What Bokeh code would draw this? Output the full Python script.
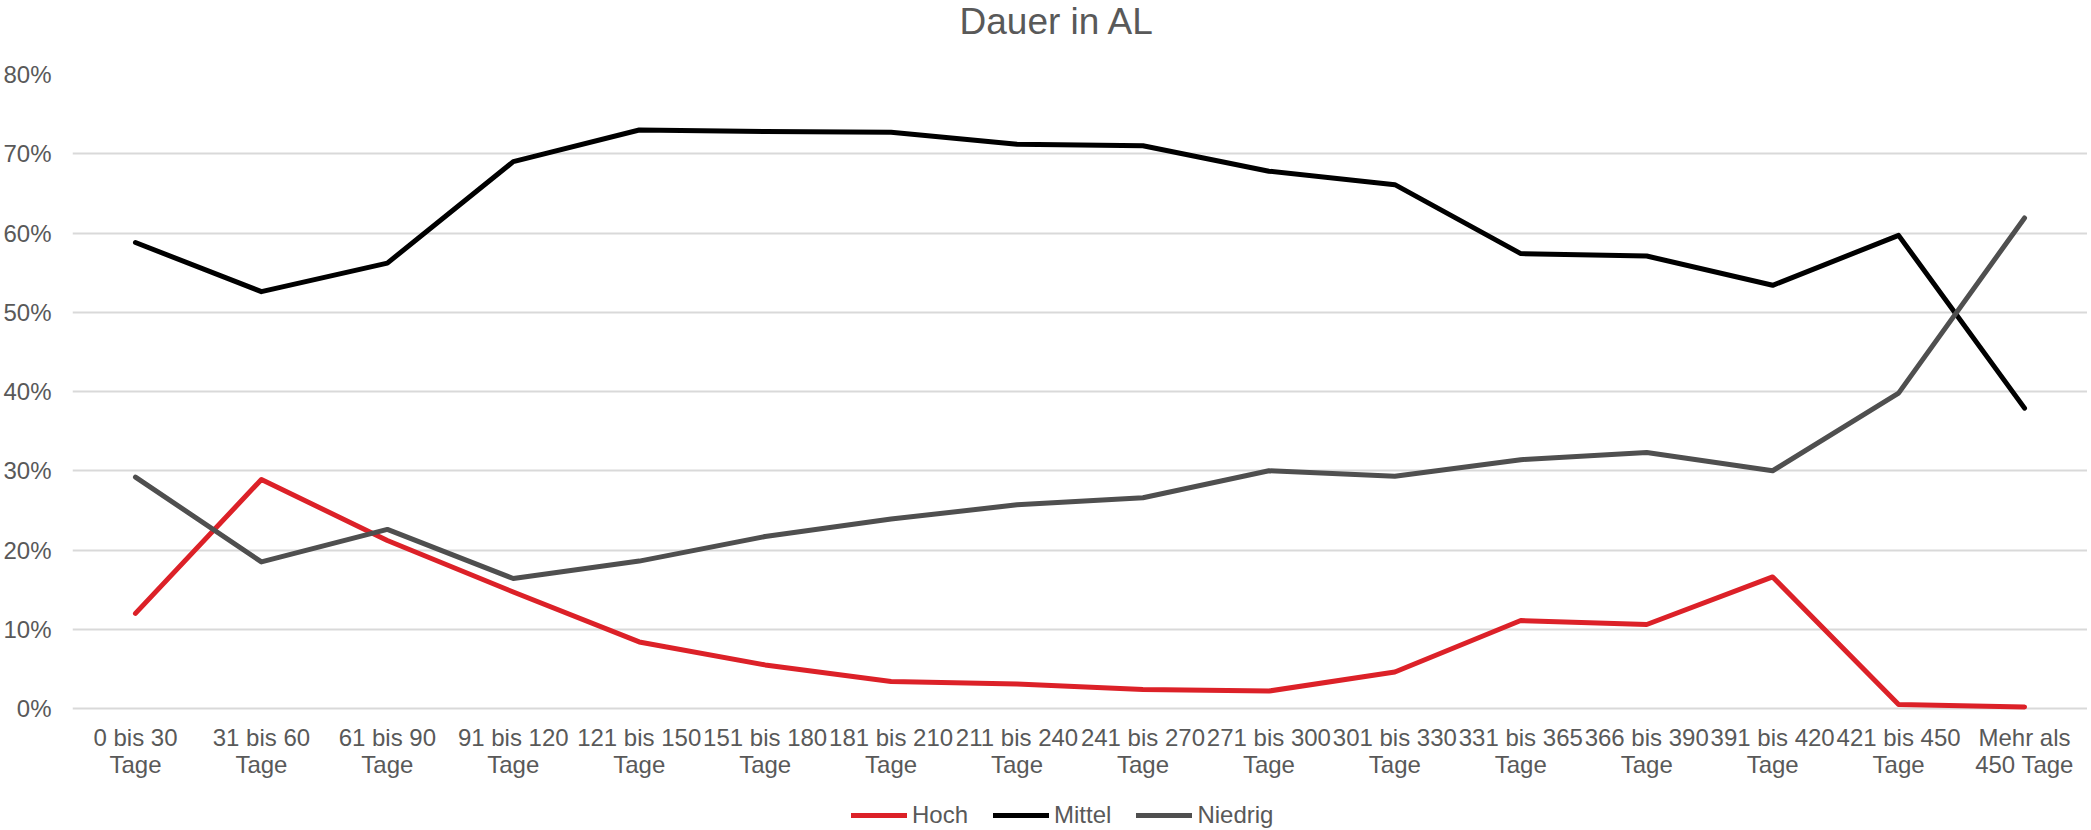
from bokeh.plotting import figure
from bokeh.models import Range1d, FixedTicker, NumeralTickFormatter, Legend, LegendItem, Title
from bokeh.embed import file_html
from bokeh.resources import INLINE

categories = ["0 bis 30\nTage", "31 bis 60\nTage", "61 bis 90\nTage", "91 bis 120\nTage",
              "121 bis 150\nTage", "151 bis 180\nTage", "181 bis 210\nTage", "211 bis 240\nTage",
              "241 bis 270\nTage", "271 bis 300\nTage", "301 bis 330\nTage", "331 bis 365\nTage",
              "366 bis 390\nTage", "391 bis 420\nTage", "421 bis 450\nTage", "Mehr als\n450 Tage"]
hoch = [12.0, 28.9, 21.2, 14.7, 8.4, 5.5, 3.4, 3.1, 2.4, 2.2, 4.6, 11.1, 10.6, 16.6, 0.5, 0.2]
mittel = [58.8, 52.6, 56.2, 69.0, 73.0, 72.8, 72.7, 71.2, 71.0, 67.8, 66.1, 57.4, 57.1, 53.4, 59.7, 37.9]
niedrig = [29.2, 18.5, 22.6, 16.4, 18.6, 21.7, 23.9, 25.7, 26.6, 30.0, 29.3, 31.4, 32.3, 30.0, 39.8, 61.9]
y_ticks = [0, 0.1, 0.2, 0.3, 0.4, 0.5, 0.6, 0.7, 0.8]

xs = list(range(len(categories)))
FONT = "Liberation Sans"
TXT = "#595959"

# plot area extends below 0 so that the category labels and the legend live inside it
FRAME_H = 755
Y_TOP = 0.8
Y_BOTTOM = Y_TOP - FRAME_H / 634 * Y_TOP

p = figure(title=None, frame_width=2015, frame_height=FRAME_H, output_backend="svg", toolbar_location=None,
           x_range=Range1d(-0.5, len(categories) - 0.5), y_range=Range1d(Y_BOTTOM, Y_TOP),
           min_border_left=72, min_border_right=0, min_border_top=74, min_border_bottom=0)
p.outline_line_color = None
p.background_fill_color = "white"

# spacer between plot area and title (closest to the frame)
p.add_layout(Title(text=" ", text_font_size="1px", standoff=28, text_color="white"), "above")
p.add_layout(Title(text="Dauer in AL", align="left", offset=887, vertical_align="top", standoff=0,
                   text_font=FONT, text_font_size="37px", text_font_style="normal",
                   text_color=TXT), "above")

p.yaxis.ticker = FixedTicker(ticks=y_ticks)
p.yaxis.formatter = NumeralTickFormatter(format="0%")
p.xaxis.ticker = FixedTicker(ticks=xs)
p.xaxis.major_label_overrides = {i: c for i, c in enumerate(categories)}
p.xaxis.fixed_location = 0
for ax in (p.xaxis, p.yaxis):
    ax.axis_line_color = None
    ax.major_tick_line_color = None
    ax.minor_tick_line_color = None
    ax.major_tick_out = 0
    ax.major_tick_in = 0
    ax.major_label_text_font = FONT
    ax.major_label_text_font_size = "24px"
    ax.major_label_text_color = TXT
p.yaxis.major_label_standoff = 21
p.xaxis.major_label_standoff = 15
p.xaxis.major_label_text_line_height = 1.0

p.xgrid.grid_line_color = None
p.ygrid.ticker = FixedTicker(ticks=y_ticks)
p.ygrid.grid_line_color = "#D9D9D9"
p.ygrid.grid_line_width = 2

r_h = p.line(xs, [v / 100 for v in hoch], line_color="#DC2128", line_width=5, line_join="round", line_cap="round")
r_m = p.line(xs, [v / 100 for v in mittel], line_color="#000000", line_width=5, line_join="round", line_cap="round")
r_n = p.line(xs, [v / 100 for v in niedrig], line_color="#4F4F4F", line_width=5, line_join="round", line_cap="round")

legend = Legend(items=[LegendItem(label="Hoch", renderers=[r_h]),
                       LegendItem(label="Mittel", renderers=[r_m]),
                       LegendItem(label="Niedrig", renderers=[r_n])],
                orientation="horizontal", location=(779, 0),
                label_text_font=FONT, label_text_font_size="24px", label_text_color=TXT,
                glyph_width=56, glyph_height=20, label_standoff=5, spacing=25,
                padding=0, margin=0, border_line_color=None, background_fill_alpha=0)
p.add_layout(legend, "center")

open("out.html", "w").write(file_html(p, INLINE))
